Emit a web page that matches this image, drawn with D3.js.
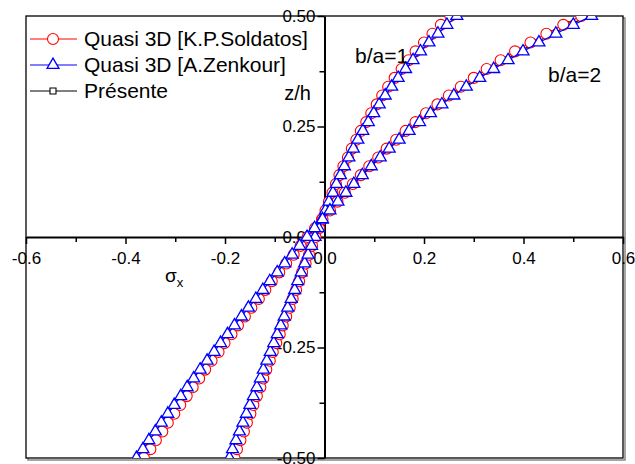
<!DOCTYPE html>
<html>
<head>
<meta charset="utf-8">
<script src="https://cdn.jsdelivr.net/npm/d3@7"></script>
<style>
	body { margin: 0; background: #fff; }
	text { font-family: Arial, "Liberation Sans", sans-serif; fill: #000; }
</style>
</head>
<body>
<script>

// thickness coordinate z/h (same for every series)
var zh = [-0.50,-0.48,-0.46,-0.44,-0.42,-0.40,-0.38,-0.36,-0.34,-0.32,-0.30,-0.28,-0.26,-0.24,-0.22,-0.20,-0.18,-0.16,-0.14,-0.12,-0.10,-0.08,-0.06,-0.04,-0.02,
	0.00,0.02,0.04,0.06,0.08,0.10,0.12,0.14,0.16,0.18,0.20,0.22,0.24,0.26,0.28,0.30,0.32,0.34,0.36,0.38,0.40,0.42,0.44,0.46,0.48,0.50];

// sigma_x, b/a = 1
var soldatos_ba1 = [-0.181,-0.176,-0.169,-0.162,-0.156,-0.149,-0.143,-0.136,-0.129,-0.123,-0.117,-0.110,-0.104,-0.097,-0.090,-0.084,-0.077,-0.070,-0.064,-0.057,-0.051,-0.045,-0.038,-0.031,-0.025,
	-0.018,-0.011,-0.005,0.002,0.009,0.016,0.023,0.030,0.038,0.047,0.055,0.064,0.073,0.084,0.094,0.105,0.116,0.128,0.141,0.155,0.169,0.183,0.200,0.217,0.234,0.253];
var zenkour_ba1 = [-0.191,-0.185,-0.178,-0.171,-0.164,-0.157,-0.150,-0.143,-0.136,-0.129,-0.123,-0.116,-0.109,-0.102,-0.095,-0.088,-0.081,-0.074,-0.067,-0.060,-0.054,-0.047,-0.040,-0.033,-0.026,
	-0.019,-0.012,-0.005,0.002,0.009,0.017,0.024,0.032,0.040,0.049,0.058,0.067,0.077,0.088,0.099,0.110,0.122,0.135,0.148,0.163,0.178,0.193,0.210,0.228,0.246,0.266];
var presente_ba1 = [-0.188,-0.182,-0.175,-0.168,-0.162,-0.155,-0.148,-0.141,-0.134,-0.127,-0.121,-0.114,-0.107,-0.100,-0.094,-0.087,-0.080,-0.073,-0.066,-0.059,-0.053,-0.046,-0.039,-0.033,-0.026,
	-0.019,-0.012,-0.005,0.002,0.009,0.017,0.024,0.032,0.039,0.048,0.057,0.066,0.076,0.087,0.098,0.108,0.120,0.133,0.146,0.161,0.175,0.190,0.207,0.225,0.242,0.262];

// sigma_x, b/a = 2
var soldatos_ba2 = [-0.363,-0.350,-0.339,-0.326,-0.315,-0.302,-0.290,-0.277,-0.265,-0.252,-0.240,-0.227,-0.213,-0.201,-0.187,-0.174,-0.160,-0.147,-0.132,-0.119,-0.106,-0.091,-0.077,-0.062,-0.048,
	-0.034,-0.019,-0.004,0.011,0.026,0.041,0.057,0.073,0.090,0.108,0.125,0.144,0.163,0.183,0.204,0.227,0.250,0.274,0.300,0.326,0.354,0.383,0.414,0.446,0.480,0.516];
var zenkour_ba2 = [-0.378,-0.365,-0.353,-0.340,-0.328,-0.315,-0.302,-0.289,-0.276,-0.263,-0.250,-0.236,-0.222,-0.209,-0.195,-0.181,-0.167,-0.153,-0.138,-0.124,-0.110,-0.095,-0.080,-0.065,-0.050,
	-0.035,-0.020,-0.004,0.011,0.027,0.043,0.059,0.076,0.094,0.112,0.130,0.150,0.170,0.191,0.213,0.236,0.260,0.285,0.312,0.340,0.369,0.399,0.431,0.465,0.500,0.537];
var presente_ba2 = [-0.372,-0.360,-0.348,-0.335,-0.323,-0.310,-0.297,-0.285,-0.272,-0.259,-0.246,-0.232,-0.219,-0.206,-0.192,-0.178,-0.164,-0.151,-0.136,-0.122,-0.108,-0.094,-0.079,-0.064,-0.049,
	-0.034,-0.020,-0.004,0.011,0.027,0.042,0.058,0.075,0.093,0.110,0.128,0.148,0.167,0.188,0.210,0.232,0.256,0.281,0.307,0.335,0.363,0.393,0.425,0.458,0.493,0.529];

var xMajor = [-0.6,-0.4,-0.2,0.0,0.2,0.4,0.6];
var xLabels = ["-0.6","-0.4","-0.2","0.0","0.2","0.4","0.6"];
var xMinor = [-0.5,-0.3,-0.1,0.1,0.3,0.5];
var yMajor = [-0.50,-0.25,0.00,0.25,0.50];
var yLabels = ["-0.50","-0.25","0.00","0.25","0.50"];
var yMinor = [-0.375,-0.125,0.125,0.375];

var legendNames = ["Quasi 3D [K.P.Soldatos]","Quasi 3D [A.Zenkour]","Présente"];

var W = 635, H = 464;
var frameL = 26, frameR = 623, frameT = 16, frameB = 458;

var x = d3.scaleLinear().domain([-0.6, 0.6]).range([frameL, frameR]);
var y = d3.scaleLinear().domain([-0.5, 0.5]).range([frameB, frameT]);

var svg = d3.select("body").append("svg")
	.attr("width", W)
	.attr("height", H);

svg.append("defs").append("clipPath")
	.attr("id", "frame-clip")
	.append("rect")
	.attr("x", frameL).attr("y", frameT)
	.attr("width", frameR - frameL).attr("height", frameB - frameT);

//	frame with shadow
svg.append("rect")
	.attr("x", frameL + 2).attr("y", frameT + 2)
	.attr("width", frameR - frameL).attr("height", frameB - frameT)
	.attr("fill", "none").attr("stroke", "#888").attr("stroke-width", 1.5);
svg.append("rect")
	.attr("x", frameL).attr("y", frameT)
	.attr("width", frameR - frameL).attr("height", frameB - frameT)
	.attr("fill", "#fff").attr("stroke", "#000").attr("stroke-width", 1.3);

//	axes through the origin
var axX = svg.append("g").attr("transform", "translate(0," + y(0) + ")")
	.call(d3.axisBottom(x).tickValues(xMajor).tickSize(7).tickSizeOuter(0)
		.tickFormat(function(d, i) { return xLabels[i]; }));
axX.select(".domain").attr("stroke-width", 2);
axX.selectAll(".tick line").attr("stroke-width", 1.5);
axX.selectAll(".tick text").attr("font-size", 17).attr("dy", "1.0em").attr("font-family", "Arial, 'Liberation Sans', sans-serif");
svg.append("g").attr("transform", "translate(0," + y(0) + ")")
	.call(d3.axisBottom(x).tickValues(xMinor).tickSize(5).tickFormat(""))
	.call(function(g) { g.select(".domain").remove(); })
	.selectAll(".tick line").attr("stroke-width", 1.5);

var axY = svg.append("g").attr("transform", "translate(" + x(0) + ",0)")
	.call(d3.axisLeft(y).tickValues(yMajor).tickSize(7).tickSizeOuter(0)
		.tickFormat(function(d, i) { return yLabels[i]; }));
axY.select(".domain").attr("stroke-width", 2);
axY.selectAll(".tick line").attr("stroke-width", 1.5);
axY.selectAll(".tick text").attr("font-size", 17).attr("x", -9).attr("font-family", "Arial, 'Liberation Sans', sans-serif");
svg.append("g").attr("transform", "translate(" + x(0) + ",0)")
	.call(d3.axisLeft(y).tickValues(yMinor).tickSize(5).tickFormat(""))
	.call(function(g) { g.select(".domain").remove(); })
	.selectAll(".tick line").attr("stroke-width", 1.5);

//	axis titles
var sx = svg.append("text").attr("x", 165).attr("y", 282).attr("font-size", 19);
sx.append("tspan").text("σ");
sx.append("tspan").attr("font-size", 13).attr("dy", 5).text("x");
svg.append("text").attr("x", 311).attr("y", 100).attr("text-anchor", "end").attr("font-size", 20).text("z/h");

//	series
var series = [
	{ vals: presente_ba1, color: "#000", mark: "square" },
	{ vals: presente_ba2, color: "#000", mark: "square" },
	{ vals: soldatos_ba1, color: "#ff0000", mark: "circle" },
	{ vals: soldatos_ba2, color: "#ff0000", mark: "circle" },
	{ vals: zenkour_ba1, color: "#0000ff", mark: "triangle" },
	{ vals: zenkour_ba2, color: "#0000ff", mark: "triangle" }
];

var plot = svg.append("g").attr("clip-path", "url(#frame-clip)");

var line = d3.line()
	.x(function(d) { return x(d[0]); })
	.y(function(d) { return y(d[1]); });

var triangle = d3.symbol().type(d3.symbolTriangle).size(62);
var square = d3.symbol().type(d3.symbolSquare).size(36);

function drawMarker(sel, mark, color) {
	if (mark == "circle") {
		sel.append("circle").attr("r", 5.5)
			.attr("fill", "#fff").attr("stroke", color).attr("stroke-width", 1.1);
	} else if (mark == "triangle") {
		sel.append("path").attr("d", triangle)
			.attr("fill", "#fff").attr("stroke", color).attr("stroke-width", 1.3);
	} else {
		sel.append("path").attr("d", square)
			.attr("fill", "#fff").attr("stroke", color).attr("stroke-width", 1.1);
	}
}

series.forEach(function(s) {
	var pts = s.vals.map(function(v, i) { return [v, zh[i]]; });
	var g = plot.append("g");
	g.append("path").datum(pts)
		.attr("d", line)
		.attr("fill", "none")
		.attr("stroke", s.color)
		.attr("stroke-width", 1.2);
	var m = g.selectAll(".m").data(pts).enter().append("g")
		.attr("class", "m")
		.attr("transform", function(d) { return "translate(" + x(d[0]) + "," + y(d[1]) + ")"; });
	drawMarker(m, s.mark, s.color);
});

//	curve labels
svg.append("text").attr("x", 355).attr("y", 63).attr("font-size", 21).text("b/a=1");
svg.append("text").attr("x", 548).attr("y", 82).attr("font-size", 21).text("b/a=2");

//	legend
var legColors = ["#ff0000", "#0000ff", "#000"];
var legMarks = ["circle", "triangle", "square"];
var legend = svg.append("g");
legendNames.forEach(function(name, i) {
	var ly = 39 + i * 26;
	legend.append("line")
		.attr("x1", 30).attr("x2", 77).attr("y1", ly).attr("y2", ly)
		.attr("stroke", legColors[i]).attr("stroke-width", 1.2);
	var mk = legend.append("g").attr("transform", "translate(53," + ly + ")");
	drawMarker(mk, legMarks[i], legColors[i]);
	legend.append("text").attr("x", 84).attr("y", ly + 7).attr("font-size", 21).text(name);
});

</script>
</body>
</html>
